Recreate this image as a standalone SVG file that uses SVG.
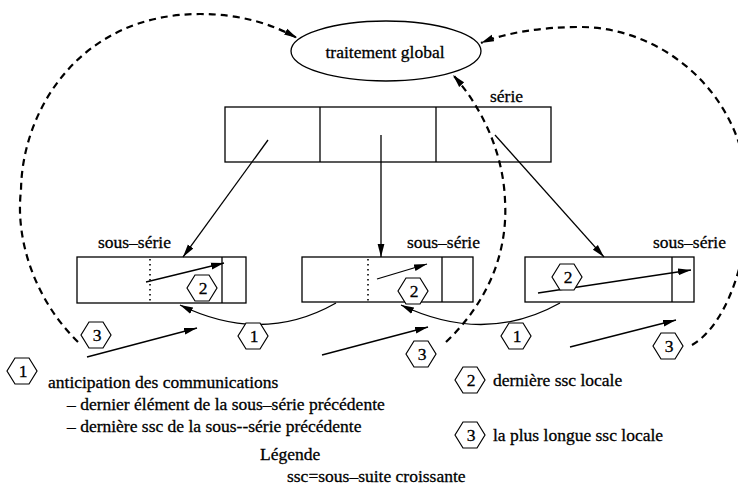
<svg xmlns="http://www.w3.org/2000/svg" xmlns:xlink="http://www.w3.org/1999/xlink" width="738" height="495" viewBox="0 0 738 495" font-family="'Liberation Serif', 'DejaVu Serif', serif" font-size="17.5">
  <style>
    text { font-family: 'Liberation Serif', 'DejaVu Serif', serif; font-size: 17.5px; fill: #000; stroke: #000; stroke-width: 0.3; }
    .box { fill: none; stroke: #000; stroke-width: 1.3; }
    .sep { fill: none; stroke: #000; stroke-width: 1.3; }
    .dots { fill: none; stroke: #000; stroke-width: 1.6; stroke-dasharray: 1.6 3.4; }
    .link { fill: none; stroke: #000; stroke-width: 1.3; marker-end: url(#ah); }
    .dash { fill: none; stroke: #000; stroke-width: 2.2; stroke-dasharray: 7 5; marker-end: url(#ah); }
    .hex { fill: #fff; stroke: #000; stroke-width: 1.2; }
    .num { text-anchor: middle; }
  </style>
  <defs>
    <marker id="ah" markerWidth="14" markerHeight="8" refX="13" refY="4" orient="auto" markerUnits="userSpaceOnUse">
      <path d="M0,0.6 L13,4 L0,7.4 z" fill="#000"/>
    </marker>
    <polygon id="hx" points="-15,0 -7,-13 7,-13 15,0 7,13 -7,13"/>
  </defs>

  <!-- central process -->
  <g id="traitement">
    <ellipse cx="386" cy="51" rx="95" ry="30" class="box"/>
    <text x="385" y="58" text-anchor="middle">traitement global</text>
  </g>

  <!-- full series split into three parts -->
  <g id="serie">
    <rect x="225" y="107" width="326" height="55" class="box"/>
    <line x1="320" y1="107" x2="320" y2="162" class="sep"/>
    <line x1="436" y1="107" x2="436" y2="162" class="sep"/>
    <text x="490" y="102">série</text>
  </g>

  <g id="sous-serie-1">
    <rect x="77" y="257" width="169" height="46" class="box"/>
    <line x1="150" y1="259" x2="150" y2="302" class="dots"/>
    <line x1="222" y1="257" x2="222" y2="303" class="sep"/>
    <text x="98" y="248">sous–série</text>
  </g>

  <g id="sous-serie-2">
    <rect x="302" y="257" width="171" height="45" class="box"/>
    <line x1="368" y1="259" x2="368" y2="301" class="dots"/>
    <line x1="442" y1="257" x2="442" y2="302" class="sep"/>
    <text x="407" y="248">sous–série</text>
  </g>

  <g id="sous-serie-3">
    <rect x="525" y="257" width="169" height="45" class="box"/>
    <line x1="672" y1="257" x2="672" y2="302" class="sep"/>
    <text x="653" y="248">sous–série</text>
  </g>

  <!-- connectors -->
  <g id="connectors">
    <!-- distribution of the series -->
    <line x1="268" y1="140" x2="183" y2="257" class="link"/>
    <line x1="381" y1="135" x2="381" y2="257" class="link"/>
    <line x1="495" y1="135" x2="604" y2="257" class="link"/>
    <!-- last local ssc -->
    <line x1="146" y1="282" x2="224" y2="263" class="link"/>
    <line x1="377" y1="279" x2="427" y2="264" class="link"/>
    <line x1="538" y1="293" x2="691" y2="270" class="link"/>
    <!-- longest local ssc -->
    <line x1="87" y1="357" x2="197" y2="328" class="link"/>
    <line x1="322" y1="355" x2="428" y2="327" class="link"/>
    <line x1="570" y1="347" x2="676" y2="320" class="link"/>
    <!-- anticipated communications -->
    <path d="M336,303 Q262,345 180,305" class="link"/>
    <path d="M560,303 Q485,345 401,305" class="link"/>
    <!-- results sent to the global step -->
    <path d="M78,342 C35,300 15,240 21,190 C22,110 80,14 200,14 C240,14 272,24 297,38" class="dash"/>
    <path d="M446,342 C490,300 508,250 505,200 C503,150 480,105 453,75" class="dash"/>
    <path d="M692,345 C732,322 752,240 748,190 C742,90 660,27 580,27 C540,27 505,33 481,43" class="dash"/>
  </g>

  <!-- numbered markers -->
  <g id="labels">
    <g id="m2a"><use xlink:href="#hx" x="202" y="288" class="hex"/><text x="203" y="294" class="num">2</text></g>
    <g id="m2b"><use xlink:href="#hx" x="413" y="291" class="hex"/><text x="414" y="297" class="num">2</text></g>
    <g id="m2c"><use xlink:href="#hx" x="567" y="277" class="hex"/><text x="568" y="283" class="num">2</text></g>
    <g id="m3a"><use xlink:href="#hx" x="96" y="335" class="hex"/><text x="97" y="341" class="num">3</text></g>
    <g id="m3b"><use xlink:href="#hx" x="421" y="354" class="hex"/><text x="422" y="360" class="num">3</text></g>
    <g id="m3c"><use xlink:href="#hx" x="668" y="346" class="hex"/><text x="669" y="352" class="num">3</text></g>
    <g id="m1a"><use xlink:href="#hx" x="253" y="336" class="hex"/><text x="254" y="342" class="num">1</text></g>
    <g id="m1b"><use xlink:href="#hx" x="516" y="336" class="hex"/><text x="517" y="342" class="num">1</text></g>
  </g>

  <!-- legend -->
  <g id="legende">
    <use xlink:href="#hx" x="22" y="371" class="hex"/><text x="23" y="377" class="num">1</text>
    <text x="48" y="388">anticipation des communications</text>
    <text x="67" y="410">– dernier élément de la sous–série précédente</text>
    <text x="67" y="432">– dernière ssc de la sous--série précédente</text>
    <use xlink:href="#hx" x="470" y="380" class="hex"/><text x="471" y="386" class="num">2</text>
    <text x="493" y="386">dernière ssc locale</text>
    <use xlink:href="#hx" x="470" y="435" class="hex"/><text x="471" y="441" class="num">3</text>
    <text x="493" y="441">la plus longue ssc locale</text>
    <text x="260" y="460">Légende</text>
    <text x="287" y="482">ssc=sous–suite croissante</text>
  </g>
</svg>
